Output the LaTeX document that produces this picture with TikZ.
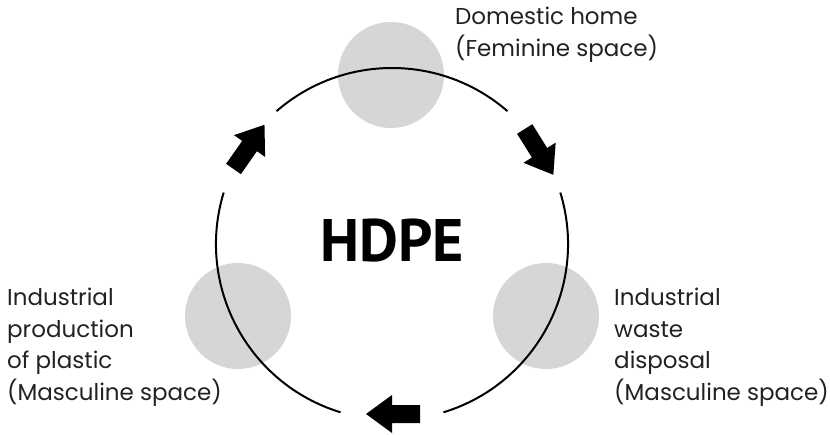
\documentclass[tikz,border=0pt]{standalone}
\usepackage{fontspec}
\setmainfont{Poppins}
\newfontfamily\headfont{PT Sans}
\definecolor{spotgray}{RGB}{214,214,214}
\definecolor{inkgray}{RGB}{34,34,34}

\begin{document}
\begin{tikzpicture}[x=1pt, y=1pt,
  spot/.style={circle, fill=spotgray, inner sep=0pt, minimum size=106pt},
  turn/.style={fill=black},
  lbl/.style={align=left, inner sep=0pt, anchor=north west, text=inkgray,
    font=\fontsize{23}{31.5}\selectfont}]
 \useasboundingbox (0,0) rectangle (830,434);
 \coordinate (ctr) at (392,190);
 % grey spots
 \node[spot] (home) at (391,359) {};
 \node[spot] (plant) at (238,118) {};
 \node[spot] (dump) at (546,118) {};
 % the cycle
 \draw[line width=2pt] ([shift={(49:176)}]ctr) arc[start angle=49, end angle=131, radius=176];
 \draw[line width=2pt] ([shift={(17:176)}]ctr) arc[start angle=17, end angle=-73, radius=176];
 \draw[line width=2pt] ([shift={(163:176)}]ctr) arc[start angle=163, end angle=253, radius=176];
 \fill[turn, shift={(233.5,265)}, rotate=55] (0,-9) -- (28,-9) -- (28,-19) -- (54,0) -- (28,19) -- (28,9) -- (0,9) -- cycle;
 \fill[turn, shift={(524.7,305)}, rotate=-58] (0,-9) -- (28,-9) -- (28,-19) -- (54,0) -- (28,19) -- (28,9) -- (0,9) -- cycle;
 \fill[turn, shift={(420,20)}, rotate=180] (0,-9) -- (28,-9) -- (28,-19) -- (54,0) -- (28,19) -- (28,9) -- (0,9) -- cycle;
 \node[font=\headfont\bfseries\fontsize{60}{60}\selectfont] (hdpe) at (392,193) {HDPE};
 % labels
 \node[lbl] (homelbl) at (455,427) {Domestic home\\(Feminine space)};
 \node[lbl] (plantlbl) at (7,146) {Industrial\\production\\of plastic\\(Masculine space)};
 \node[lbl] (dumplbl) at (614,146) {Industrial\\waste\\disposal\\(Masculine space)};
\end{tikzpicture}
\end{document}
